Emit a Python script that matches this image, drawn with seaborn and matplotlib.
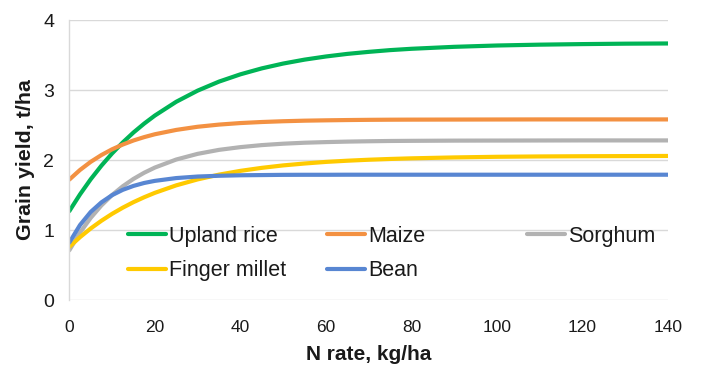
import matplotlib
matplotlib.use("Agg")
import matplotlib.pyplot as plt
import pandas as pd
import seaborn as sns

# Nitrogen rate (kg/ha) and grain yield response (t/ha) for each crop
n_rate = [0, 2.5, 5, 7.5, 10, 12.5, 15, 17.5, 20, 25, 30, 35, 40, 45,
          50, 55, 60, 65, 70, 75, 80, 90, 100, 110, 120, 130, 140]
upland_rice = [1.270, 1.509, 1.725, 1.919, 2.094, 2.251, 2.393, 2.520, 2.635, 2.832, 2.991,
               3.120, 3.224, 3.309, 3.378, 3.434, 3.479, 3.516, 3.545, 3.570, 3.589,
               3.617, 3.636, 3.648, 3.656, 3.662, 3.665]
maize = [1.720, 1.858, 1.974, 2.071, 2.153, 2.221, 2.279, 2.327, 2.368, 2.430, 2.475,
         2.506, 2.528, 2.543, 2.554, 2.562, 2.567, 2.571, 2.574, 2.576, 2.577,
         2.578, 2.579, 2.580, 2.580, 2.580, 2.580]
sorghum = [0.710, 0.963, 1.173, 1.351, 1.500, 1.625, 1.730, 1.818, 1.892, 2.007, 2.088,
           2.145, 2.184, 2.213, 2.233, 2.247, 2.256, 2.263, 2.268, 2.272, 2.274,
           2.277, 2.278, 2.279, 2.280, 2.280, 2.280]
finger_millet = [0.760, 0.898, 1.022, 1.132, 1.231, 1.319, 1.398, 1.468, 1.531, 1.638,
                 1.723, 1.791, 1.845, 1.888, 1.923, 1.950, 1.973, 1.990, 2.004, 2.015,
                 2.024, 2.037, 2.046, 2.051, 2.054, 2.056, 2.058]
bean = [0.820, 1.071, 1.258, 1.395, 1.498, 1.574, 1.630, 1.672, 1.702, 1.742, 1.764,
        1.775, 1.782, 1.785, 1.788, 1.789, 1.789, 1.790, 1.790, 1.790, 1.790,
        1.790, 1.790, 1.790, 1.790, 1.790, 1.790]

crops = ["Upland rice", "Maize", "Sorghum", "Finger millet", "Bean"]
colors = ["#00B456", "#F39142", "#B2B2B2", "#FFCA00", "#5886D2"]
x_ticks = [0, 20, 40, 60, 80, 100, 120, 140]
y_ticks = [0, 1, 2, 3, 4]

wide = pd.DataFrame({"N rate": n_rate, "Upland rice": upland_rice, "Maize": maize,
                     "Sorghum": sorghum, "Finger millet": finger_millet, "Bean": bean})
long = wide.melt(id_vars="N rate", var_name="crop", value_name="yield")

sns.set_theme(style="white")
plt.rcParams["font.family"] = ["Liberation Sans", "DejaVu Sans"]

fig = plt.figure(figsize=(7.03, 3.66), dpi=100)
ax = fig.add_axes([0.0986, 0.1803, 0.8516, 0.765])

sns.lineplot(data=long, x="N rate", y="yield", hue="crop", hue_order=crops,
             palette=dict(zip(crops, colors)), linewidth=3.0, errorbar=None,
             legend=False, ax=ax)
lines = ax.get_lines()
for ln in lines:
    ln.set_solid_capstyle("round")
    ln.set_solid_joinstyle("round")

ax.set_xlim(0, 140)
ax.set_ylim(0, 4)
ax.set_xticks(x_ticks)
ax.set_yticks(y_ticks)
ax.set_axisbelow(True)
ax.grid(axis="y", color="#D9D9D9", linewidth=1.0)
ax.grid(axis="x", visible=False)
for side in ["top", "right", "bottom"]:
    ax.spines[side].set_visible(False)
ax.spines["left"].set_color("#D9D9D9")
ax.spines["left"].set_linewidth(1.0)

ax.tick_params(axis="x", labelsize=12.5, pad=14.5, length=0, labelcolor="#1a1a1a")
ax.tick_params(axis="y", labelsize=14, pad=11, length=0, labelcolor="#1a1a1a")
ax.set_xlabel("N rate, kg/ha", fontsize=15, fontweight="bold", labelpad=7, color="#1a1a1a")
ax.set_ylabel("Grain yield, t/ha", fontsize=15.4, fontweight="bold", labelpad=6, color="#1a1a1a")

# legend laid out in three evenly spaced columns inside the plot
by_label = dict(zip(crops, lines))
columns = [(0.0985, ["Upland rice", "Finger millet"]),
           (0.431, ["Maize", "Bean"]),
           (0.7645, ["Sorghum"])]
legends = []
for x0, labels in columns:
    leg = ax.legend([by_label[l] for l in labels], labels, loc="upper left",
                    bbox_to_anchor=(x0, 0.265), frameon=False, fontsize=15.5,
                    handlelength=1.77, handletextpad=0.12, labelspacing=0.62,
                    borderpad=0, borderaxespad=0)
    for t in leg.get_texts():
        t.set_color("#1a1a1a")
    legends.append(leg)
for leg in legends[:-1]:
    ax.add_artist(leg)

fig.savefig("out.png", dpi=100)
